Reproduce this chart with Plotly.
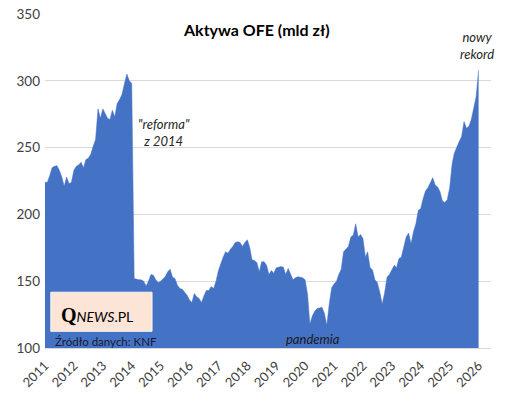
import pandas as pd
import plotly.graph_objects as go

# Monthly OFE assets (bn PLN), Jan 2011 .. Jan 2026
start_month = "2011-01-01"
values_2011 = [224, 224, 229, 235, 236, 236.5, 233, 228, 221, 228, 223, 224]
values_2012 = [233, 236, 237, 239, 235, 241, 242, 245, 251, 256, 279, 272]
values_2013 = [279, 275, 272, 271, 278, 273, 283, 286, 290, 298, 305, 300]
values_2014 = [298, 152, 151.5, 151, 151, 150, 146.5, 150, 155, 154.5, 151, 149]
values_2015 = [150, 152, 153.5, 157, 159, 153, 152, 147, 144.6, 144, 142, 139.5]
values_2016 = [136, 134, 140.8, 138.3, 137, 134, 139, 143, 143, 146, 144.5, 150]
values_2017 = [158, 164, 168, 172, 171, 174, 176, 179, 179.5, 179, 176, 179]
values_2018 = [181, 175, 166, 165.5, 164, 157, 164.5, 164.5, 162, 155, 158, 156]
values_2019 = [160, 160.5, 161, 160.5, 155, 159.5, 155, 151, 152.5, 153.3, 153, 152.5]
values_2020 = [151, 140, 118, 124, 127.5, 129.5, 130, 130.5, 126, 117, 133, 145]
values_2021 = [148, 150, 155, 159, 172, 174, 176, 183, 184.5, 193, 183, 185]
values_2022 = [182, 168, 172, 160, 158.5, 151, 149, 142, 133, 141, 153, 155]
values_2023 = [158, 162, 160, 167, 168, 175, 183, 186, 178, 187, 193, 203]
values_2024 = [204.5, 212, 217.5, 220, 223.5, 227.5, 222, 220.5, 217, 210, 209, 211]
values_2025 = [220, 238, 246, 251, 254.5, 258.3, 269.5, 264.5, 266, 271, 280, 288]
values_2026 = [308]

assets = (values_2011 + values_2012 + values_2013 + values_2014 + values_2015 +
          values_2016 + values_2017 + values_2018 + values_2019 + values_2020 +
          values_2021 + values_2022 + values_2023 + values_2024 + values_2025 +
          values_2026)
dates = pd.date_range(start_month, periods=len(assets), freq="MS")

year_ticks = [f"{y}-01-01" for y in range(2011, 2027)]
year_labels = [str(y) for y in range(2011, 2027)]
y_ticks = [100, 150, 200, 250, 300, 350]

title_text = "<b>Aktywa OFE (mld zł)</b>"
reform_text = "<i>\"reforma\"<br>z 2014</i>"
record_text = "<i>nowy<br>rekord</i>"
pandemic_text = "<i>pandemia</i>"
source_text = "Źródło danych: KNF"

BLUE = "#4472C4"
FONT = "Lato"

fig = go.Figure()
fig.add_trace(go.Scatter(
    x=dates, y=assets, mode="lines", fill="tozeroy",
    line=dict(color=BLUE, width=0.5), fillcolor=BLUE,
    hoverinfo="x+y", showlegend=False,
))

fig.update_layout(
    width=518, height=396,
    margin=dict(l=45, r=27, t=14, b=48, autoexpand=False),
    paper_bgcolor="white", plot_bgcolor="white",
    font=dict(family=FONT, size=13, color="#404040"),
    showlegend=False,
)
fig.update_xaxes(
    type="date", range=["2011-01-01", "2026-06-07"], automargin=False,
    tickvals=year_ticks, ticktext=year_labels, tickangle=-45, ticklabelstandoff=4,
    showgrid=False, zeroline=False, showline=True, linecolor="#d9d9d9", linewidth=1,
    ticks="", tickfont=dict(size=13, color="#404040"),
)
fig.update_yaxes(
    range=[100, 350], tickvals=y_ticks, showgrid=True, gridcolor="#d9d9d9",
    gridwidth=1, zeroline=False, showline=False, ticks="", automargin=False,
    tickfont=dict(size=13.5, color="#404040"), ticklabelstandoff=4,
)

def note(text, x, y, size, color, **kw):
    fig.add_annotation(text=text, xref="paper", yref="paper", x=x, y=y,
                       xanchor=kw.pop("xanchor", "center"), yanchor="middle",
                       showarrow=False, font=dict(size=size, color=color, family=FONT), **kw)

# plot area: x 45..491 px, y 14..348 px
note(title_text, 0.474, 0.953, 16, "black")
note(reform_text, 0.267, 0.645, 13, "#262626")
note(record_text, 0.968, 0.905, 13, "#262626")
note(pandemic_text, 0.60, 0.026, 13, "#1a1a1a")

# logo box
fig.add_shape(type="rect", xref="paper", yref="paper", x0=0.013, x1=0.240, y0=0.05, y1=0.167,
              fillcolor="#FCE4D6", line=dict(color="#f5f5f5", width=1), layer="above")
note("<span style='font-family:Liberation Serif;font-weight:bold;font-size:20px'>Q</span>"
     "<span style='font-style:italic;font-size:14px'>NEWS</span>"
     "<span style='font-size:14px'>.PL</span>", 0.117, 0.10, 14, "black")
note(source_text, 0.017, 0.019, 11.5, "#1a1a2e", xanchor="left")

fig.write_html("out.html", config={"displayModeBar": False},
               post_script="document.body.style.margin='0';")
